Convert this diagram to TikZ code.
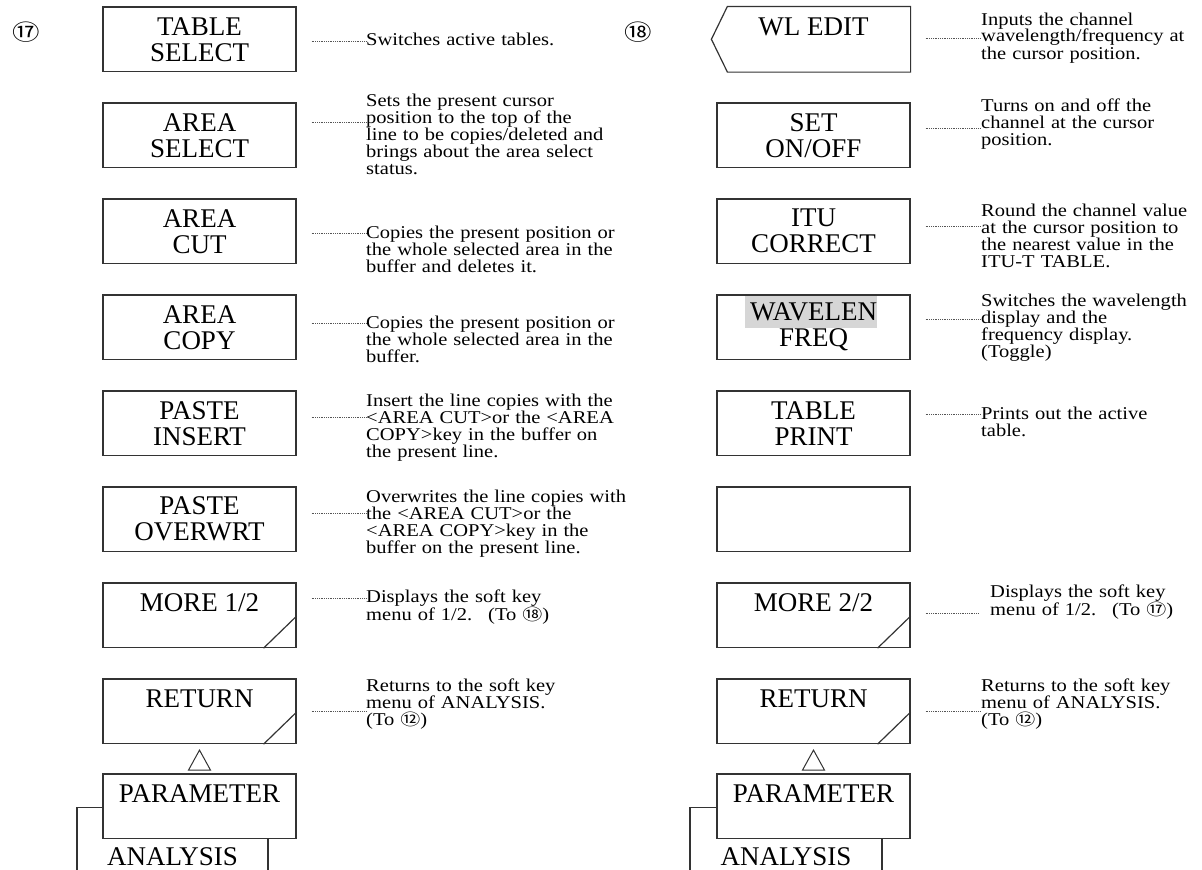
\documentclass[tikz,border=0pt]{standalone}
\usepackage{fontspec}
\setmainfont{Liberation Serif}
\newfontfamily\keyfont{Liberation Serif}
\newfontfamily\descfont{Liberation Serif}[FakeStretch=1.14]
\newfontfamily\cjk{Noto Sans CJK JP}[FakeStretch=1.25]
\usetikzlibrary{backgrounds}
\definecolor{linecol}{HTML}{333333}
\definecolor{hlgray}{HTML}{D6D6D6}
\definecolor{dotcol}{HTML}{555555}
\newcommand{\circn}[1]{{\cjk\fontsize{16}{16}\selectfont #1}}
\begin{document}
\begin{tikzpicture}[x=1pt,y=-1pt,
  key/.style={draw=linecol, line width=1.2pt, minimum width=193pt, minimum height=64.5pt,
    inner sep=0pt, align=center, font=\keyfont\fontsize{27}{26}\selectfont},
  desc/.style={anchor=base west, inner sep=0pt, text width=320pt, align=left,
    font=\descfont\fontsize{18}{17}\selectfont},
  leader/.style={draw=dotcol, line width=0.7pt, dash pattern=on 0.7pt off 1.1pt},
  circnum/.style={inner sep=0pt, font=\cjk\fontsize{22}{22}\selectfont},
  corner/.style={draw=linecol, line width=1.2pt, line join=miter},
  tri/.style={draw=linecol, line width=1pt}
]
\useasboundingbox (0,0) rectangle (1202,870);
\clip (0,0) rectangle (1202,870);

% circled numbers
\node[circnum] (n17) at (26,32) {⑰};
\node[circnum] (n18) at (638,32) {⑱};

% ---------------- left column ----------------
\node[key] (k1) at (199.5,39.25) {TABLE\\SELECT};
\node[key] (k2) at (199.5,135.25) {AREA\\SELECT};
\node[key] (k3) at (199.5,231.25) {AREA\\CUT};
\node[key] (k4) at (199.5,327.25) {AREA\\COPY};
\node[key] (k5) at (199.5,423.25) {PASTE\\INSERT};
\node[key] (k6) at (199.5,519.25) {PASTE\\OVERWRT};
\node[key] (k7) at (199.5,615.25) {MORE 1/2\\\vphantom{X}};
\node[key] (k8) at (199.5,711.25) {RETURN\\\vphantom{X}};
\draw[corner] ([xshift=-33pt]k7.south east) -- ([yshift=32pt]k7.south east);
\draw[corner] ([xshift=-33pt]k8.south east) -- ([yshift=32pt]k8.south east);
\draw[tri] ([yshift=-6pt]k8.south) -- ([shift={(-11pt,-26pt)}]k8.south) -- ([shift={(11pt,-26pt)}]k8.south) -- cycle;
\node[key, anchor=north, minimum width=191pt, minimum height=97.3pt] (a1) at (172.5,807) {ANALYSIS};
\node[key, fill=white] (p1) at (199.5,806.25) {PARAMETER\\\vphantom{X}};

\node[desc] (d1) at (366,45) {Switches active tables.};
\node[desc] (d2) at (366,106) {Sets the present cursor\\position to the top of the\\line to be copies/deleted and\\brings about the area select\\status.};
\node[desc] (d3) at (366,238) {Copies the present position or\\the whole selected area in the\\buffer and deletes it.};
\node[desc] (d4) at (366,328) {Copies the present position or\\the whole selected area in the\\buffer.};
\node[desc] (d5) at (366,406) {Insert the line copies with the\\<AREA CUT>or the <AREA\\COPY>key in the buffer on\\the present line.};
\node[desc] (d6) at (366,502) {Overwrites the line copies with\\the <AREA CUT>or the\\<AREA COPY>key in the\\buffer on the present line.};
\node[desc] (d7) at (366,602) {Displays the soft key\\menu of 1/2.\hspace{16pt}(To \circn{⑱})};
\node[desc] (d8) at (366,691) {Returns to the soft key\\menu of ANALYSIS.\\(To \circn{⑫})};

\coordinate (j1) at (d1.west |- 0,41);
\coordinate (j2) at (d2.west |- 0,122);
\coordinate (j3) at (d3.west |- 0,233);
\coordinate (j4) at (d4.west |- 0,323);
\coordinate (j5) at (d5.west |- 0,417);
\coordinate (j6) at (d6.west |- 0,513);
\coordinate (j7) at (d7.west |- 0,598);
\coordinate (j8) at (d8.west |- 0,711);
\foreach \i in {1,...,8}{
  \draw[leader] (k\i.east |- j\i) ++(15,0) -- (j\i);
}

% ---------------- right column ----------------
\node[key, draw=none] (r1) at (813.5,39.25) {WL EDIT\\\vphantom{X}};
\draw[corner] ([xshift=11pt]r1.north west) -- (r1.north east) -- (r1.south east)
  -- ([xshift=11pt]r1.south west) -- ([xshift=-5pt]r1.west) -- cycle;
\node[key] (r2) at (813.5,135.25) {SET\\ON/OFF};
\node[key] (r3) at (813.5,231.25) {ITU\\CORRECT};
\node[key] (r4) at (813.5,327.25) {WAVELEN\\FREQ};
\begin{scope}[on background layer]
  \fill[hlgray] ([shift={(29pt,-2pt)}]r4.north west) rectangle ([shift={(161pt,-34pt)}]r4.north west);
\end{scope}
\node[key] (r5) at (813.5,423.25) {TABLE\\PRINT};
\node[key] (r6) at (813.5,519.25) {};
\node[key] (r7) at (813.5,615.25) {MORE 2/2\\\vphantom{X}};
\node[key] (r8) at (813.5,711.25) {RETURN\\\vphantom{X}};
\draw[corner] ([xshift=-33pt]r7.south east) -- ([yshift=32pt]r7.south east);
\draw[corner] ([xshift=-33pt]r8.south east) -- ([yshift=32pt]r8.south east);
\draw[tri] ([yshift=-6pt]r8.south) -- ([shift={(-11pt,-26pt)}]r8.south) -- ([shift={(11pt,-26pt)}]r8.south) -- cycle;
\node[key, anchor=north, minimum width=192pt, minimum height=97.3pt] (a2) at (786,807) {ANALYSIS};
\node[key, fill=white] (p2) at (813.5,806.25) {PARAMETER\\\vphantom{X}};

\node[desc] (e1) at (981,25) {Inputs the channel\\wavelength/frequency at\\the cursor position.};
\node[desc] (e2) at (981,111) {Turns on and off the\\channel at the cursor\\position.};
\node[desc] (e3) at (981,216) {Round the channel value\\at the cursor position to\\the nearest value in the\\ITU-T TABLE.};
\node[desc] (e4) at (981,306) {Switches the wavelength\\display and the\\frequency display.\\(Toggle)};
\node[desc] (e5) at (981,419) {Prints out the active\\table.};
\node[desc] (e7) at (990,597) {Displays the soft key\\menu of 1/2.\hspace{16pt}(To \circn{⑰})};
\node[desc] (e8) at (981,691) {Returns to the soft key\\menu of ANALYSIS.\\(To \circn{⑫})};

\coordinate (m1) at (e1.west |- 0,38);
\coordinate (m2) at (e2.west |- 0,128);
\coordinate (m3) at (e3.west |- 0,226);
\coordinate (m4) at (e4.west |- 0,319);
\coordinate (m5) at (e5.west |- 0,414);
\coordinate (m7) at ([xshift=-12pt]e7.west |- 0,613);
\coordinate (m8) at (e8.west |- 0,711);
\foreach \i in {1,2,3,4,5,7,8}{
  \draw[leader] (r\i.east |- m\i) ++(15,0) -- (m\i);
}
\end{tikzpicture}
\end{document}
